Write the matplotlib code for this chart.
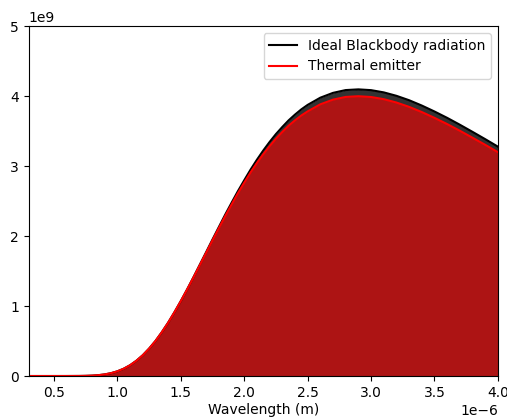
import numpy as np
import matplotlib.pyplot as plt

# wavelength grid (m) and spectral radiance at 1000 K (W / m^2 / sr / m)
wavelength = np.array([
    0.30, 0.40, 0.50, 0.60, 0.70, 0.75, 0.80, 0.85, 0.90, 0.95,
    1.00, 1.05, 1.10, 1.15, 1.20, 1.25, 1.30, 1.35, 1.40, 1.45,
    1.50, 1.55, 1.60, 1.65, 1.70, 1.75, 1.80, 1.85, 1.90, 1.95,
    2.00, 2.05, 2.10, 2.15, 2.20, 2.25, 2.30, 2.35, 2.40, 2.45,
    2.50, 2.60, 2.70, 2.80, 2.90, 3.00, 3.10, 3.20, 3.30, 3.40,
    3.50, 3.60, 3.70, 3.80, 3.90, 4.00]) * 1e-6

blackbody = np.array([
    0.0, 0.0, 0.0, 0.0001, 0.0008, 0.0023, 0.0056, 0.0120, 0.0230, 0.0407,
    0.0671, 0.1045, 0.1541, 0.2183, 0.2968, 0.3915, 0.5000, 0.6249, 0.7615, 0.9114,
    1.0703, 1.2375, 1.412, 1.591, 1.770, 1.951, 2.128, 2.305, 2.474, 2.640,
    2.796, 2.948, 3.089, 3.221, 3.343, 3.456, 3.557, 3.652, 3.734, 3.809,
    3.873, 3.976, 4.045, 4.085, 4.095, 4.084, 4.052, 4.003, 3.940, 3.864,
    3.779, 3.688, 3.590, 3.488, 3.384, 3.277]) * 1e9

emitter = np.array([
    0.0, 0.0, 0.0, 0.0001, 0.0008, 0.0023, 0.0056, 0.0120, 0.0230, 0.0407,
    0.0671, 0.1045, 0.1541, 0.2183, 0.2968, 0.3915, 0.5000, 0.6249, 0.7615, 0.9114,
    1.0703, 1.2363, 1.409, 1.585, 1.761, 1.939, 2.113, 2.285, 2.449, 2.611,
    2.762, 2.908, 3.043, 3.168, 3.283, 3.390, 3.486, 3.575, 3.652, 3.721,
    3.780, 3.881, 3.948, 3.987, 3.997, 3.986, 3.955, 3.907, 3.845, 3.771,
    3.688, 3.599, 3.504, 3.404, 3.303, 3.198]) * 1e9

fig = plt.figure(figsize=(5.07, 4.17), dpi=100)
ax = fig.add_axes([0.0564, 0.0983, 0.9256, 0.8393])

ax.fill_between(wavelength, blackbody, color="black", alpha=0.8, lw=0)
ax.fill_between(wavelength, emitter, color="red", alpha=0.6, lw=0)
ax.plot(wavelength, blackbody, color="black", label="Ideal Blackbody radiation")
ax.plot(wavelength, emitter, color="red", label="Thermal emitter")

ax.set_xlim(0.3e-6, 4.0e-6)
ax.set_ylim(0, 5e9)
ax.set_xlabel("Wavelength (m)", labelpad=2.5)
ax.legend(loc="upper right")

fig.savefig("out.png", dpi=100)
